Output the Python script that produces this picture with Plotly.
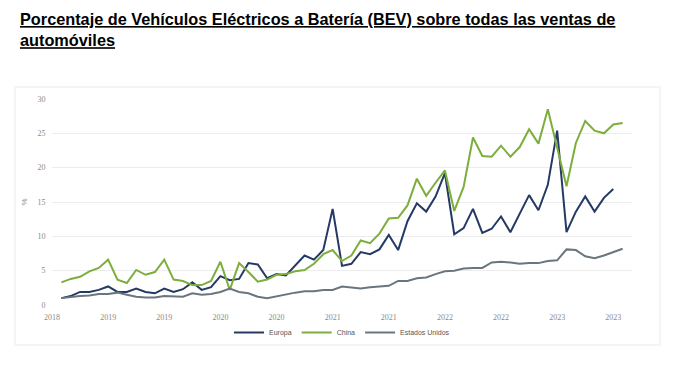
import plotly.graph_objects as go

months = list(range(1, 62))

europa = [1.0, 1.3, 1.9, 1.9, 2.2, 2.7, 1.9, 1.9, 2.4, 1.9,
          1.7, 2.4, 1.9, 2.3, 3.3, 2.2, 2.6, 4.2, 3.6, 3.8,
          6.1, 5.9, 3.9, 4.5, 4.3, 5.7, 7.2, 6.6, 8.0, 14.0,
          5.7, 6.0, 7.7, 7.4, 8.1, 10.2, 8.0, 12.2, 14.8, 13.6,
          15.8, 19.2, 10.3, 11.2, 14.0, 10.5, 11.1, 12.9, 10.6, 13.3,
          16.0, 13.8, 17.5, 25.4, 10.6, 13.6, 15.8, 13.6, 15.6, 16.9]

china = [3.3, 3.8, 4.1, 4.9, 5.4, 6.6, 3.7, 3.2, 5.1, 4.4,
         4.8, 6.6, 3.7, 3.5, 2.9, 2.9, 3.5, 6.3, 2.2, 6.1,
         4.8, 3.4, 3.7, 4.4, 4.5, 4.9, 5.1, 6.0, 7.4, 8.0,
         6.4, 7.2, 9.4, 9.0, 10.4, 12.6, 12.7, 14.5, 18.4, 15.9,
         17.8, 19.6, 13.7, 17.2, 24.4, 21.7, 21.6, 23.2, 21.6, 23.0,
         25.6, 23.5, 28.5, 23.0, 17.3, 23.6, 26.8, 25.4, 25.0, 26.3,
         26.5]

eeuu = [1.0, 1.2, 1.3, 1.4, 1.6, 1.6, 1.8, 1.5, 1.2, 1.1,
        1.1, 1.3, 1.3, 1.2, 1.7, 1.5, 1.6, 1.9, 2.4, 1.9,
        1.7, 1.2, 1.0, 1.3, 1.6, 1.8, 2.0, 2.0, 2.2, 2.2,
        2.7, 2.6, 2.4, 2.6, 2.7, 2.8, 3.5, 3.5, 3.9, 4.0,
        4.5, 4.9, 5.0, 5.3, 5.4, 5.4, 6.2, 6.3, 6.2, 6.0,
        6.1, 6.1, 6.4, 6.5, 8.1, 8.0, 7.1, 6.8, 7.2, 7.7,
        8.2]

tick_vals = [0, 6, 12, 18, 24, 30, 36, 42, 48, 54, 60]
tick_text = ["2018", "2019", "2019", "2020", "2020", "2021",
             "2021", "2022", "2022", "2023", "2023"]

title_text = ("Porcentaje de Vehículos Eléctricos a Batería (BEV) sobre todas las ventas de"
              "<br>automóviles")

W, H = 676, 358  # page body has an 8px margin

fig = go.Figure()
fig.add_trace(go.Scatter(x=months[:len(europa)], y=europa, mode="lines", name="Europa",
                         line=dict(color="#243a64", width=2)))
fig.add_trace(go.Scatter(x=months[:len(china)], y=china, mode="lines", name="China",
                         line=dict(color="#7dae3c", width=2)))
fig.add_trace(go.Scatter(x=months[:len(eeuu)], y=eeuu, mode="lines", name="Estados Unidos",
                         line=dict(color="#6a767e", width=2)))

fig.update_layout(
    width=W, height=H,
    margin=dict(l=44, r=52, t=91, b=61, autoexpand=False),
    paper_bgcolor="white", plot_bgcolor="white",
    font=dict(family="Liberation Sans, Arial, sans-serif"),
    title=dict(text="<b><u>" + title_text + "</u></b>", x=12 / W, xanchor="left",
               xref="container", yref="container",
               y=1 - 17 / H, yanchor="top",
               font=dict(size=16.3, color="#000000", family="Liberation Sans, Arial, sans-serif")),
    showlegend=True,
    legend=dict(orientation="h", x=0.5, xanchor="center", xref="paper",
                yref="container", y=1 - 310 / H, yanchor="top",
                font=dict(size=7, color="#555555"), itemwidth=30,
                bgcolor="rgba(0,0,0,0)"),
    xaxis=dict(range=[0, 62], tickmode="array", tickvals=tick_vals, ticktext=tick_text,
               showgrid=False, zeroline=False, showline=False,
               ticks="outside", ticklen=4, tickcolor="rgba(0,0,0,0)",
               tickfont=dict(family="Liberation Serif, serif", size=8, color="#8a8a8a")),
    yaxis=dict(range=[0, 30], dtick=5, showgrid=True, gridcolor="#ececec", gridwidth=1,
               zeroline=False, showline=False,
               ticks="outside", ticklen=4, tickcolor="rgba(0,0,0,0)",
               tickfont=dict(family="Liberation Serif, serif", size=8, color="#8a8a8a"),
               title=dict(text="%", font=dict(size=8, color="#8a8a8a"), standoff=8)),
    shapes=[dict(type="rect", xref="paper", yref="paper", x0=-0.064, x1=1.048, y0=-0.194, y1=1.058,
                 line=dict(color="#f4f4f4", width=2), fillcolor="rgba(0,0,0,0)", layer="below")],
)

fig.write_html("out.html")
